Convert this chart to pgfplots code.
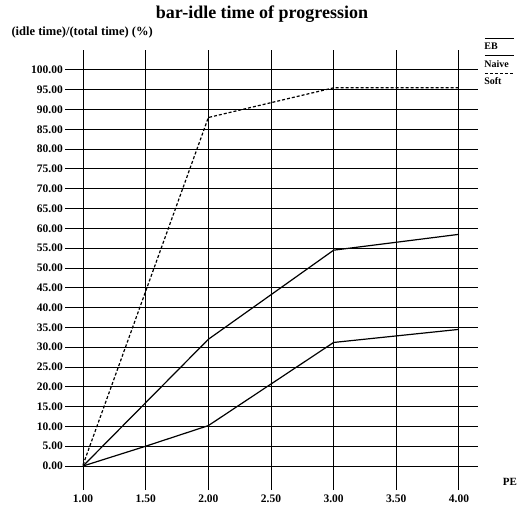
\documentclass[border=0pt]{standalone}
\usepackage{pgfplots}
\pgfplotsset{compat=1.18}
\usepackage{fontspec}
\setmainfont{Liberation Serif}
\begin{document}
\begin{tikzpicture}[x=1pt,y=1pt]
\useasboundingbox (0,0) rectangle (524,504);
\begin{axis}[
  at={(65pt,14pt)}, anchor=south west,
  scale only axis, width=413pt, height=440pt,
  xmin=0.856, xmax=4.152, ymin=-6.06, ymax=105.05,
  xtick={1,1.5,...,4}, ytick={0,5,...,100},
  axis line style={draw=none},
  major tick length=0pt,
  grid=major,
  major grid style={black, line width=1pt},
  /pgf/number format/fixed, /pgf/number format/zerofill, /pgf/number format/precision=2,
  /pgf/number format/assume math mode=true,
  ticklabel style={font=\fontsize{11.5}{12}\selectfont\bfseries},
  yticklabel style={xshift=0pt, inner sep=2pt},
  xticklabel style={yshift=-1pt},
  legend style={at={(axis description cs:1.01,1.02)}, anchor=north west, draw=none, fill=none,
    font=\fontsize{10}{11}\selectfont\bfseries, row sep=5pt, inner sep=0pt,
    /tikz/every even column/.append style={column sep=0pt}},
  legend cell align=left,
  legend plot pos=right,
  legend image code/.code={\draw[#1, line width=0.8pt, overlay] (-26pt,9pt) -- (3pt,9pt);},
]
\addplot[black, line width=1.2pt] coordinates {(1,0) (1.5,5) (2,10.2) (3,31.2) (4,34.5)};
\addlegendentry{EB}
\addplot[black, line width=1.2pt] coordinates {(1,0) (2,32) (3,54.5) (4,58.5)};
\addlegendentry{Naive}
\addplot[black, line width=1.2pt, dash pattern=on 3pt off 2pt] coordinates {(1,0.3) (2,88) (3,95.5) (4,95.5)};
\addlegendentry{Soft}
\end{axis}
\node[font=\fontsize{18}{20}\selectfont\bfseries] at (262,490) {bar-idle time of progression};
\node[font=\fontsize{12.5}{13}\selectfont\bfseries, anchor=west] at (8,472) {(idle time)/(total time) (\%)};
\node[font=\fontsize{11}{12}\selectfont\bfseries] at (510,22) {PE};
\end{tikzpicture}
\end{document}
